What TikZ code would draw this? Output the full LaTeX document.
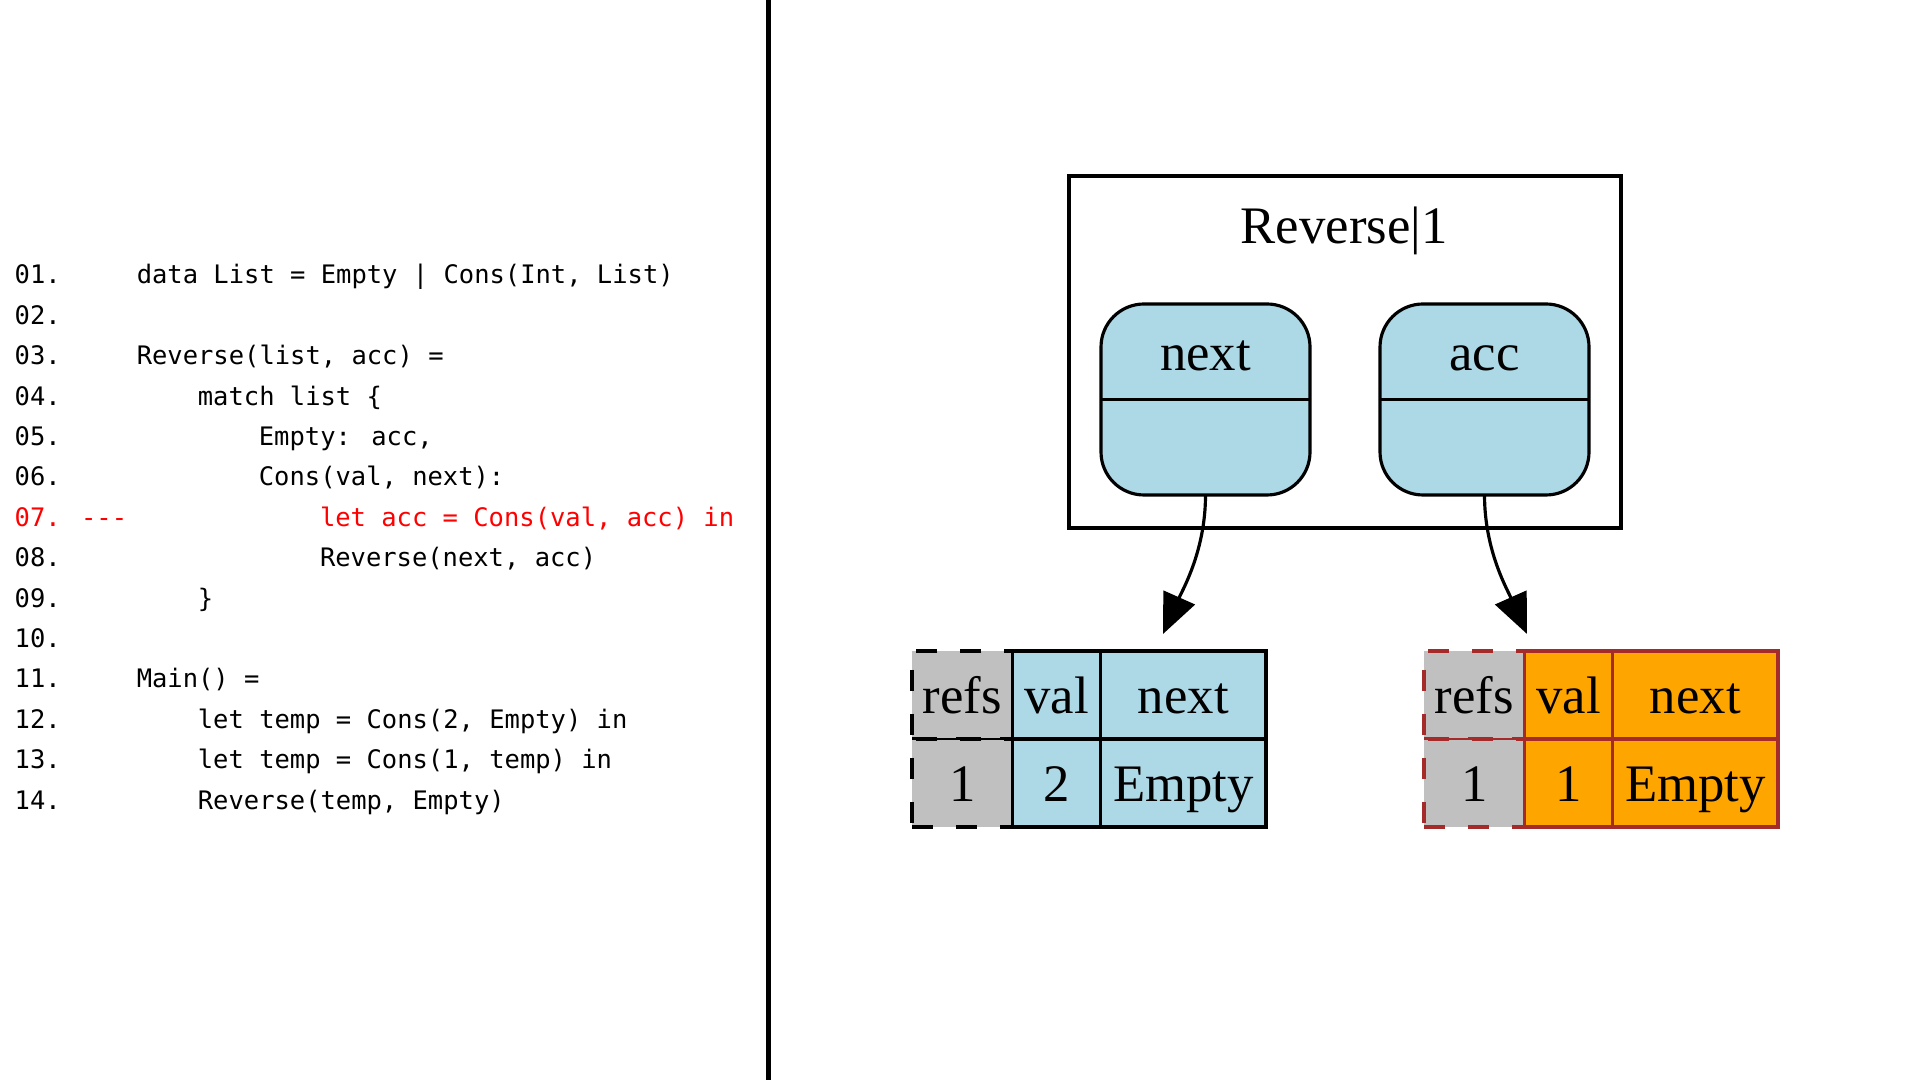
\documentclass[tikz,border=0pt]{standalone}
\usepackage{fontspec}
\setmainfont{Liberation Serif}
\newfontfamily\codefont{DejaVu Sans Mono}
\usepackage{xcolor}
\usetikzlibrary{positioning,arrows.meta}
\definecolor{lightblue}{HTML}{ADD8E6}
\definecolor{refgray}{HTML}{C0C0C0}
\definecolor{gvorange}{HTML}{FFA500}
\definecolor{gvbrown}{HTML}{A52A2A}
\definecolor{codered}{HTML}{FF0000}

\begin{document}
\begin{tikzpicture}[>={Triangle[length=0.4cm,width=0.34cm]}]
      \tikzstyle{every node}=[inner sep=0pt, outer sep=0pt]
      \tikzstyle{codeline}=[font=\codefont\fontsize{7.25pt}{8pt}\selectfont, anchor=base west]
      \tikzstyle{lbl}=[font=\fontsize{15pt}{18pt}\selectfont, anchor=base]
      \tikzstyle{field}=[draw, line width=0.9pt, fill=lightblue, rounded corners=0.43cm, minimum width=2.09cm, minimum height=1.91cm]
      \tikzstyle{cell}=[draw, line width=0.9pt, minimum height=0.88cm, font=\fontsize{15pt}{18pt}\selectfont, text height=1.25em, text depth=0.2em]
      \tikzstyle{refcell}=[cell, dash pattern=on 0.21cm off 0.23cm, fill=refgray, minimum width=1.007cm]
      \tikzstyle{valcell}=[cell, minimum width=0.88cm]
      \tikzstyle{nextcell}=[cell, minimum width=1.652cm]
      \useasboundingbox[fill=white] (0,0) rectangle (19.2,10.8);
      % source listing
      \node[codeline] (n01) at (0.147,7.960) {01.};
      \node[codeline] (n02) at (0.147,7.556) {02.};
      \node[codeline] (n03) at (0.147,7.152) {03.};
      \node[codeline] (n04) at (0.147,6.748) {04.};
      \node[codeline] (n05) at (0.147,6.344) {05.};
      \node[codeline] (n06) at (0.147,5.940) {06.};
      \node[codeline, text=codered] (n07) at (0.147,5.536) {07. ---};
      \node[codeline] (n08) at (0.147,5.132) {08.};
      \node[codeline] (n09) at (0.147,4.728) {09.};
      \node[codeline] (n10) at (0.147,4.324) {10.};
      \node[codeline] (n11) at (0.147,3.920) {11.};
      \node[codeline] (n12) at (0.147,3.516) {12.};
      \node[codeline] (n13) at (0.147,3.112) {13.};
      \node[codeline] (n14) at (0.147,2.708) {14.};
      \node[codeline] (c01) at (1.368,7.960) {data List = Empty | Cons(Int, List)};
      \node[codeline] (c03) at (1.368,7.152) {Reverse(list, acc) =};
      \node[codeline] (c04) at (1.979,6.748) {match list \{};
      \node[codeline] (c05) at (2.589,6.344) {Empty: acc,};
      \node[codeline] (c06) at (2.589,5.940) {Cons(val, next):};
      \node[codeline, text=codered] (c07) at (3.200,5.536) {let acc = Cons(val, acc) in};
      \node[codeline] (c08) at (3.200,5.132) {Reverse(next, acc)};
      \node[codeline] (c09) at (1.979,4.728) {\}};
      \node[codeline] (c11) at (1.368,3.920) {Main() =};
      \node[codeline] (c12) at (1.979,3.516) {let temp = Cons(2, Empty) in};
      \node[codeline] (c13) at (1.979,3.112) {let temp = Cons(1, temp) in};
      \node[codeline] (c14) at (1.979,2.708) {Reverse(temp, Empty)};
      \draw[line width=1.4pt] (7.685,0) -- (7.685,10.8);
      % stack frame
      \node[draw, line width=0.9pt, minimum width=5.52cm, minimum height=3.52cm] (rev) at (13.45,7.28) {};
      \node[lbl] (revl) at (13.44,8.36) {Reverse|1};
      \node[field] (nextf) at (12.055,6.805) {};
      \draw[line width=0.9pt] (nextf.west) -- (nextf.east);
      \node[lbl] (nextl) at ([yshift=0.285cm]nextf.center) {next};
      \node[field] (accf) at (14.845,6.805) {};
      \draw[line width=0.9pt] (accf.west) -- (accf.east);
      \node[lbl] (accl) at ([yshift=0.285cm]accf.center) {acc};
      % heap cells
      \node[refcell, anchor=north west] (lrefs) at (9.12,4.29) {refs};
      \node[refcell, below=0pt of lrefs] (lrefsv) {1};
      \draw[line width=0.4pt] (lrefs.south west) -- (lrefs.south east);
      \node[valcell, fill=lightblue, right=0pt of lrefs] (lval) {val};
      \node[valcell, fill=lightblue, below=0pt of lval] (lvalv) {2};
      \node[nextcell, fill=lightblue, right=0pt of lval] (lnext) {next};
      \node[nextcell, fill=lightblue, below=0pt of lnext] (lnextv) {Empty};
      \node[refcell, draw=gvbrown, anchor=north west] (rrefs) at (14.24,4.29) {refs};
      \node[refcell, draw=gvbrown, below=0pt of rrefs] (rrefsv) {1};
      \draw[line width=0.4pt, gvbrown] (rrefs.south west) -- (rrefs.south east);
      \node[valcell, draw=gvbrown, fill=gvorange, right=0pt of rrefs] (rval) {val};
      \node[valcell, draw=gvbrown, fill=gvorange, below=0pt of rval] (rvalv) {1};
      \node[nextcell, draw=gvbrown, fill=gvorange, right=0pt of rval] (rnext) {next};
      \node[nextcell, draw=gvbrown, fill=gvorange, below=0pt of rnext] (rnextv) {Empty};
      \coordinate (lptr) at (11.63,4.46);
      \coordinate (rptr) at (15.27,4.46);
      \draw[->, line width=0.9pt] (nextf.south) .. controls +(0,-0.55) and +(0.2,0.45) .. (lptr);
      \draw[->, line width=0.9pt] (accf.south) .. controls +(0,-0.55) and +(-0.2,0.45) .. (rptr);
    \end{tikzpicture}
\end{document}
